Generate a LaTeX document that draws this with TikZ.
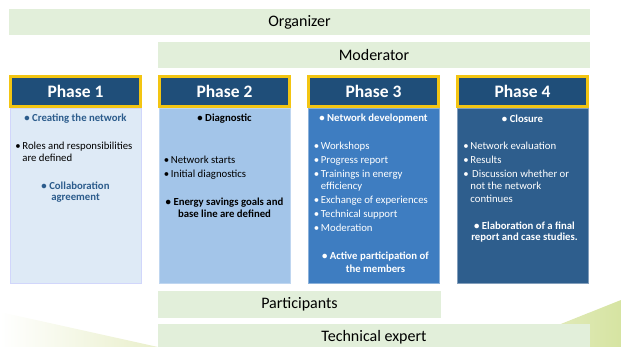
\documentclass[tikz,border=0pt]{standalone}
\usepackage{fontspec}
\setmainfont{Carlito}
\usetikzlibrary{calc,positioning}
\definecolor{bargreen}{HTML}{E2EFDA}
\definecolor{headblue}{HTML}{1F4E79}
\definecolor{headgold}{HTML}{F3C512}
\definecolor{phaseA}{HTML}{DEEAF6}
\definecolor{phaseB}{HTML}{A3C5E9}
\definecolor{phaseC}{HTML}{3E7DC1}
\definecolor{phaseD}{HTML}{2E5E8D}
\definecolor{titleblue}{HTML}{2C5C8C}
\definecolor{swooshA}{HTML}{E9EFCB}
\definecolor{swooshB}{HTML}{D6E4A2}
\newcommand{\itm}{\makebox[7pt][l]{\textbullet}}
\newcommand{\ind}{\hspace*{7pt}}

\begin{document}
\begin{tikzpicture}[x=1pt,y=-1pt,node distance=0pt and 16pt]

\tikzset{bar/.style={fill=bargreen,minimum height=26pt,inner sep=0pt,font=\fontsize{16}{18}\selectfont},
phasehead/.style={fill=headblue,draw=headgold,line width=3pt,minimum width=130pt,minimum height=30pt,inner sep=0pt,text=white,font=\fontsize{17.5}{20}\selectfont\bfseries},
phasebody/.style={minimum width=131pt,minimum height=175pt,inner sep=0pt,line width=0.6pt},
ptitle/.style={inner sep=0pt,font=\fontsize{10.75}{12.5}\selectfont\bfseries},
pitems/.style={inner sep=0pt,anchor=north west,align=left,font=\fontsize{10.75}{12.5}\selectfont},
pnote/.style={inner sep=0pt,anchor=north,align=center,font=\fontsize{10.75}{11.6}\selectfont\bfseries}}

\useasboundingbox (0,0) rectangle (621,347);

% Background swooshes
\shade[left color=white,right color=swooshA] (0,312) -- (158,347) -- (0,347) -- cycle;
\shade[left color=swooshA,right color=swooshB] (503,347) -- (621,300) -- (621,347) -- cycle;

% Role bars
\node[bar,minimum width=581pt] (organizer) at (299.5,22) {Organizer};
\node[bar,minimum width=432pt] (moderator) at (374,55) {Moderator};

% Phase headers
\node[phasehead] (h1) at (75.5,91.5) {Phase 1};
\node[phasehead,right=of h1] (h2) {Phase 2};
\node[phasehead,right=of h2] (h3) {Phase 3};
\node[phasehead,right=of h3] (h4) {Phase 4};

% Phase bodies
\node[phasebody,fill=phaseA,draw=phaseA!80!blue!60,below=0pt of h1] (b1) {};
\node[phasebody,fill=phaseB,draw=phaseB!70!white,below=0pt of h2] (b2) {};
\node[phasebody,fill=phaseC,draw=phaseC!60!white,below=0pt of h3] (b3) {};
\node[phasebody,fill=phaseD,draw=phaseD!60!white,below=0pt of h4] (b4) {};

% Phase 1
\node[ptitle,text=titleblue] (t1) at ($(b1.north)+(0,11)$) {\textbullet\ Creating the network};
\node[pitems] (i1) at ($(b1.north west)+(5.5,33.5)$) {\itm Roles and responsibilities\\ \ind are defined};
\node[pnote,text=titleblue] (n1) at ($(b1.north)+(0,73.5)$) {\textbullet\ Collaboration\\agreement};

% Phase 2
\node[ptitle] (t2) at ($(b2.north)+(0,11)$) {\textbullet\ Diagnostic};
\node[pitems] (i2) at ($(b2.north west)+(5,47.5)$) {\itm Network starts\\[1.5pt] \itm Initial diagnostics};
\node[pnote] (n2) at ($(b2.north)+(0,90)$) {\textbullet\ Energy savings goals and\\base line are defined};

% Phase 3
\node[ptitle,text=white] (t3) at ($(b3.north)+(0,11)$) {\textbullet\ Network development};
\node[pitems,text=white] (i3) at ($(b3.north west)+(6,33.5)$) {\itm Workshops\\[1.5pt] \itm Progress report\\[1.5pt]
  \itm Trainings in energy\\ \ind efficiency\\[1.5pt] \itm Exchange of experiences\\[1.5pt]
  \itm Technical support\\[1.5pt] \itm Moderation};
\node[pnote,text=white,font=\fontsize{10.75}{12.5}\selectfont\bfseries] (n3) at ($(b3.north)+(2,144)$) {\textbullet\ Active participation of\\the members};

% Phase 4
\node[ptitle,text=white] (t4) at ($(b4.north)+(0,11)$) {\textbullet\ Closure};
\node[pitems,text=white] (i4) at ($(b4.north west)+(6.5,33.5)$) {\itm Network evaluation\\[1.5pt] \itm Results\\[1.5pt]
  \itm\,Discussion whether or\\ \ind not the network\\ \ind continues};
\node[pnote,text=white] (n4) at ($(b4.north)+(2,113.5)$) {\textbullet\ Elaboration of a final\\report and case studies.};

% Lower role bars
\node[bar,minimum width=283pt] (participants) at (299.5,304.5) {Participants};
\node[bar,minimum width=432pt] (expert) at (374,337) {Technical expert};

\end{tikzpicture}
\end{document}
